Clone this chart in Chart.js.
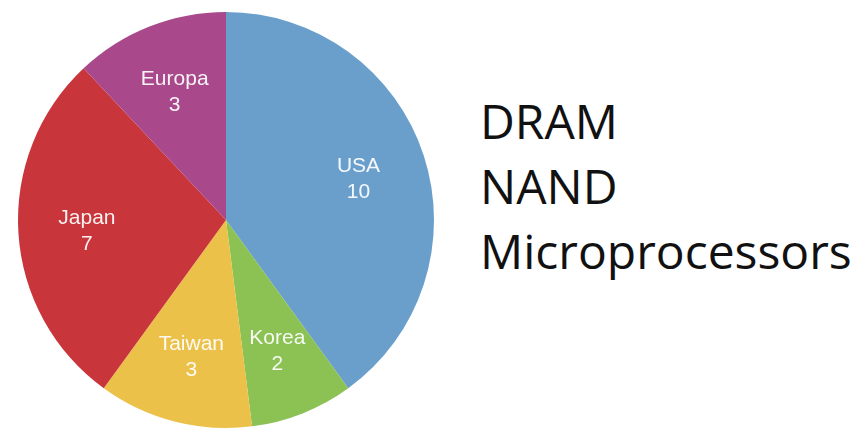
<!DOCTYPE html>
<html>
<head>
<meta charset="utf-8">
<script src="https://cdn.jsdelivr.net/npm/chart.js@4.4.0/dist/chart.umd.min.js"></script>
<style>
  html, body { margin: 0; padding: 0; background: #fff; }
  #wrap { position: relative; width: 868px; height: 440px; }
  #chartBox { position: absolute; left: 0; top: 0; width: 452px; height: 440px; }
  #side { position: absolute; left: 480px; top: 88px; font-family: "Open Sans", sans-serif;
          font-size: 48px; line-height: 65px; color: #111; }
</style>
</head>
<body>
<div id="wrap">
  <div id="chartBox"><canvas id="pie"></canvas></div>
  <div id="side">
    <div>DRAM</div>
    <div>NAND</div>
    <div>Microprocessors</div>
  </div>
</div>
<script>
// dữ liệu lấy từ hình
const regions = ['USA', 'Korea', 'Taiwan', 'Japan', 'Europa'];
const counts = [10, 2, 3, 7, 3];
const sliceColors = ['#6a9fcc', '#8bc253', '#ebc14a', '#c8363c', '#a9498b'];

// vẽ nhãn "tên + số" bên trong từng lát
const sliceLabels = {
    id: 'sliceLabels',
    afterDatasetsDraw(chart) {
        const ctx = chart.ctx;
        const meta = chart.getDatasetMeta(0);
        ctx.save();
        ctx.fillStyle = 'rgba(255,255,255,0.93)';
        ctx.font = '21px "Liberation Sans", Arial, sans-serif';
        ctx.textAlign = 'center';
        ctx.textBaseline = 'middle';
        meta.data.forEach((arc, i) => {
            const p = arc.getProps(['x', 'y', 'startAngle', 'endAngle', 'outerRadius'], true);
            const mid = (p.startAngle + p.endAngle) / 2;
            const r = p.outerRadius * 0.67;
            const x = p.x + Math.cos(mid) * r;
            const y = p.y + Math.sin(mid) * r;
            ctx.fillText(regions[i], x, y - 11);
            ctx.fillText(String(counts[i]), x, y + 15);
        });
        ctx.restore();
    }
};

new Chart(document.getElementById('pie').getContext('2d'), {
    type: 'pie',
    data: {
        labels: regions,
        datasets: [{
            data: counts,
            backgroundColor: sliceColors,
            borderWidth: 0
        }]
    },
    options: {
        responsive: true,
        maintainAspectRatio: false,
        animation: false,
        layout: { padding: 12 },
        plugins: {
            legend: { display: false },
            tooltip: { enabled: false }
        }
    },
    plugins: [sliceLabels]
});
</script>
</body>
</html>
